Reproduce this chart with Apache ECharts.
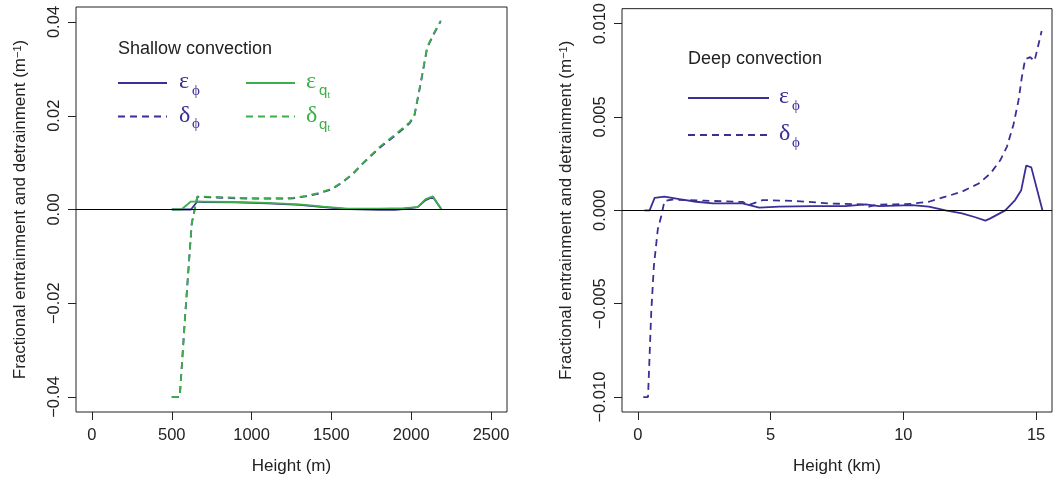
<!DOCTYPE html>
<html><head><meta charset="utf-8">
<script src="https://cdn.jsdelivr.net/npm/echarts@6/dist/echarts.min.js"></script>
<style>html,body{margin:0;padding:0;background:#fff}#c{width:1059px;height:480px}</style>
</head><body><div id="c"></div><script>
// ---------- data: shallow convection (height in m) ----------
const shallowXTicks = [0, 500, 1000, 1500, 2000, 2500];
const shallowYTicks = [-0.04, -0.02, 0, 0.02, 0.04];

const shEpsPhiX = [500, 620, 660, 700, 900, 1100, 1300, 1450, 1600, 1800, 1900, 1950, 2040, 2090, 2135, 2190];
const shEpsPhiY = [0, 0, 0.0017, 0.0016, 0.0015, 0.0013, 0.0010, 0.0005, 0.0001, -0.0001, -0.0001, 0.0001, 0.0005, 0.0020, 0.0027, 0];

const shEpsQtX = [500, 560, 620, 660, 700, 900, 1100, 1300, 1450, 1600, 1800, 1950, 2040, 2090, 2135, 2190];
const shEpsQtY = [0, 0, 0.0017, 0.0017, 0.0017, 0.0016, 0.0014, 0.0011, 0.0006, 0.0002, 0.0002, 0.0003, 0.0005, 0.0022, 0.0028, 0];

const shDelPhiX = [500, 550, 585, 625, 660, 750, 900, 1050, 1200, 1260, 1340, 1420, 1500, 1570, 1635, 1700, 1800, 1900, 1990, 2020, 2060, 2100, 2140, 2185];
const shDelPhiY = [-0.04, -0.04, -0.022, -0.003, 0.0027, 0.0026, 0.0024, 0.0023, 0.0023, 0.0024, 0.0028, 0.0034, 0.0043, 0.0058, 0.0076, 0.0099, 0.0131, 0.0158, 0.0184, 0.0200, 0.0270, 0.0345, 0.0373, 0.0402];

const shDelQtX = [500, 550, 585, 625, 660, 750, 900, 1050, 1200, 1260, 1340, 1420, 1500, 1570, 1635, 1700, 1800, 1900, 1990, 2020, 2060, 2100, 2140, 2185];
const shDelQtY = [-0.04, -0.04, -0.022, -0.003, 0.0028, 0.0027, 0.0025, 0.0024, 0.0024, 0.0025, 0.0029, 0.0035, 0.0044, 0.0059, 0.0077, 0.0100, 0.0133, 0.0160, 0.0186, 0.0202, 0.0272, 0.0347, 0.0375, 0.0403];

// ---------- data: deep convection (height in km) ----------
const deepXTicks = [0, 5, 10, 15];
const deepYTicks = [-0.010, -0.005, 0, 0.005, 0.010];

const dpEpsPhiX = [0.25, 0.44, 0.63, 1.0, 1.56, 2.19, 2.82, 3.44, 3.94, 4.2, 4.57, 5.32, 6.57, 7.82, 8.58, 9.08, 10.33, 10.96, 11.59, 12.21, 12.71, 13.09, 13.28, 13.84, 14.21, 14.44, 14.63, 14.82, 15.24];
const dpEpsPhiY = [0, 0, 0.00067, 0.00073, 0.0006, 0.00046, 0.00037, 0.00037, 0.00037, 0.00028, 0.00014, 0.0002, 0.00023, 0.00023, 0.00032, 0.00023, 0.00028, 0.0002, 0.0, -0.00016, -0.00037, -0.00055, -0.00043, 0.0, 0.00055, 0.00108, 0.0024, 0.0023, 0];

const dpDelPhiX = [0.2, 0.38, 0.5, 0.6, 0.75, 0.88, 1.0, 1.3, 1.8, 2.5, 3.3, 3.94, 4.2, 4.7, 5.95, 7.2, 8.45, 8.7, 9.0, 9.7, 10.3, 10.96, 11.59, 12.21, 12.84, 13.28, 13.65, 13.9, 14.15, 14.34, 14.46, 14.59, 14.78, 14.94, 15.06, 15.21];
const dpDelPhiY = [-0.01, -0.01, -0.0055, -0.003, -0.001, -0.0003, 0.0005, 0.00058, 0.00055, 0.00052, 0.00048, 0.00045, 0.0003, 0.00055, 0.0005, 0.00037, 0.00032, 0.0002, 0.0003, 0.00032, 0.00035, 0.00046, 0.00073, 0.001, 0.00144, 0.00197, 0.00268, 0.0034, 0.0046, 0.0059, 0.0071, 0.0081, 0.0082, 0.008, 0.0087, 0.0096];

// ---------- styling ----------
const BLUE = '#3A2F94', GREEN = '#3DAF4A', INK = '#222';
const FONT = '"Liberation Sans", Arial, Helvetica, sans-serif';
const GREEK = '"Liberation Serif", "DejaVu Serif", serif';
const DASH = [7, 5];

const pairs = (xs, ys) => xs.map((x, i) => [x, ys[i]]);
const minus = s => s.replace('-', '\u2212');

function xAxis(gi, min, max, ticks, name) {
  return {
    type: 'value', gridIndex: gi, min, max, name, nameLocation: 'middle', nameGap: 46,
    nameTextStyle: { fontFamily: FONT, fontSize: 17, color: INK },
    axisLine: { show: false, onZero: false }, splitLine: { show: false },
    axisTick: { show: true, length: 8, customValues: ticks, lineStyle: { color: INK, width: 1 } },
    axisLabel: { customValues: ticks, margin: 15, fontFamily: FONT, fontSize: 16.5, color: INK,
      formatter: v => String(v) }
  };
}
function yAxis(gi, lim, ticks, digits) {
  return {
    type: 'value', gridIndex: gi, min: -lim, max: lim,
    name: 'Fractional entrainment and detrainment (m{sup|\u22121})',
    nameLocation: 'middle', nameRotate: 90, nameGap: 47,
    nameTextStyle: { fontFamily: FONT, fontSize: 17, color: INK,
      rich: { sup: { fontFamily: FONT, fontSize: 11, color: INK, verticalAlign: 'top' } } },
    axisLine: { show: false, onZero: false }, splitLine: { show: false },
    axisTick: { show: true, length: 8, customValues: ticks, lineStyle: { color: INK, width: 1 } },
    axisLabel: { customValues: ticks, rotate: 90, margin: 13, fontFamily: FONT, fontSize: 16.5, color: INK,
      formatter: v => minus(Number(v).toFixed(digits)) }
  };
}
function line(name, xi, data, color, dashed, zeroLine) {
  const s = {
    name, type: 'line', xAxisIndex: xi, yAxisIndex: xi, data, showSymbol: false, symbol: 'none',
    lineStyle: { color, width: 1.8, type: dashed ? DASH : 'solid' }, itemStyle: { color },
    animation: false, silent: true, z: 3
  };
  if (zeroLine) {
    s.markLine = { silent: true, symbol: ['none', 'none'], label: { show: false }, animation: false,
      lineStyle: { color: '#000', width: 1, type: 'solid' }, data: [{ yAxis: 0 }] };
  }
  return s;
}

// legend helpers (graphic elements)
function txt(x, y, text, size, color, family, align) {
  return { type: 'text', x, y, silent: true,
    style: { text, fontSize: size, fill: color, fontFamily: family || FONT, align: align || 'left', verticalAlign: 'middle' } };
}
function seg(x1, x2, y, color, dashed) {
  return { type: 'line', silent: true, shape: { x1, y1: y, x2, y2: y },
    style: { stroke: color, lineWidth: 1.8, lineDash: dashed ? DASH : null } };
}
function greek(x, y, ch, color, subs) {
  const out = [txt(x, y - 1, ch, 24, color, GREEK)];
  let sx = x + 13;
  subs.forEach((s, i) => {
    out.push(txt(sx, y + 8 + i * 4, s, i === 0 ? 15 : 10, color, i === 0 && s === 'q' ? FONT : GREEK));
    sx += i === 0 ? 8.5 : 5;
  });
  return out;
}

const graphics = [
  txt(118, 49, 'Shallow convection', 18, INK),
  seg(118, 167, 83, BLUE, false), ...greek(179, 83, 'ε', BLUE, ['ϕ']),
  seg(246, 295, 83, GREEN, false), ...greek(306, 83, 'ε', GREEN, ['q', 't']),
  seg(118, 167, 116.5, BLUE, true), ...greek(179, 116.5, 'δ', BLUE, ['ϕ']),
  seg(246, 295, 116.5, GREEN, true), ...greek(306, 116.5, 'δ', GREEN, ['q', 't']),
  txt(688, 59, 'Deep convection', 18, INK),
  seg(688, 769, 98, BLUE, false), ...greek(779, 98, 'ε', BLUE, ['ϕ']),
  seg(688, 769, 135, BLUE, true), ...greek(779, 135, 'δ', BLUE, ['ϕ'])
];

const option = {
  animation: false,
  backgroundColor: '#fff',
  textStyle: { fontFamily: FONT },
  grid: [
    { left: 76, top: 7, width: 431, height: 406, show: true, borderColor: INK, borderWidth: 1, backgroundColor: 'transparent' },
    { left: 622, top: 7, width: 430, height: 406, show: true, borderColor: INK, borderWidth: 1, backgroundColor: 'transparent' }
  ],
  xAxis: [xAxis(0, -100, 2600, shallowXTicks, 'Height (m)'), xAxis(1, -0.6, 15.6, deepXTicks, 'Height (km)')],
  yAxis: [yAxis(0, 0.0432, shallowYTicks, 2), yAxis(1, 0.0108, deepYTicks, 3)],
  series: [
    line('εφ', 0, pairs(shEpsPhiX, shEpsPhiY), BLUE, false, true),
    line('δφ', 0, pairs(shDelPhiX, shDelPhiY), BLUE, true, false),
    line('εqt', 0, pairs(shEpsQtX, shEpsQtY), GREEN, false, false),
    line('δqt', 0, pairs(shDelQtX, shDelQtY), GREEN, true, false),
    line('εφ deep', 1, pairs(dpEpsPhiX, dpEpsPhiY), BLUE, false, true),
    line('δφ deep', 1, pairs(dpDelPhiX, dpDelPhiY), BLUE, true, false)
  ],
  graphic: graphics
};
const chart = echarts.init(document.getElementById('c'), null, { renderer: 'canvas' });
chart.setOption(option);
</script></body></html>
